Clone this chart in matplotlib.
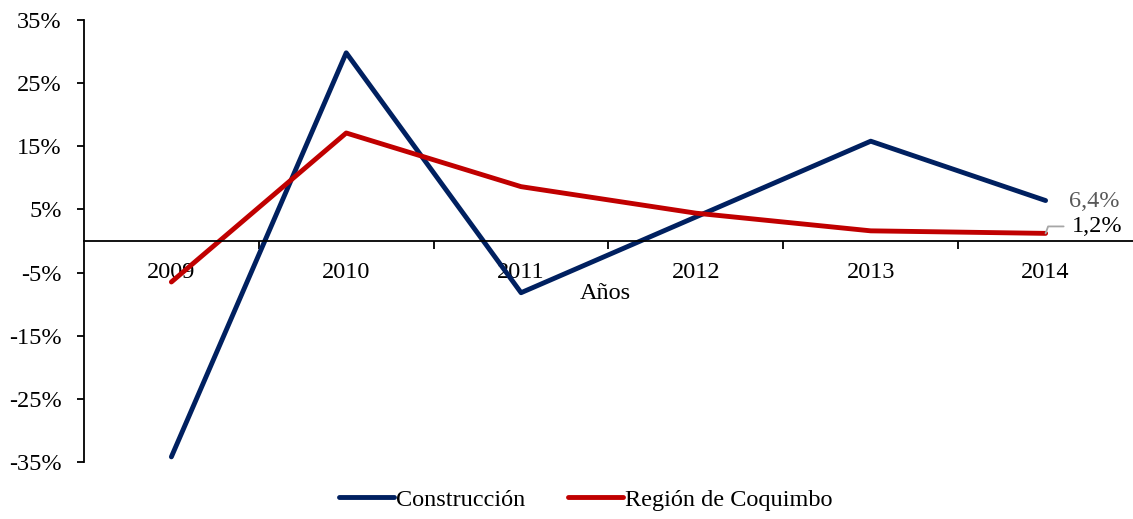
import numpy as np
import matplotlib.pyplot as plt

plt.rcParams['font.family'] = ['Liberation Serif', 'DejaVu Serif']

years = ['2009', '2010', '2011', '2012', '2013', '2014']
construccion = [-34.2, 29.8, -8.2, 3.8, 15.8, 6.4]
coquimbo = [-6.5, 17.1, 8.6, 4.4, 1.6, 1.2]
yticks = [35, 25, 15, 5, -5, -15, -25, -35]

blue = '#002060'
red = '#C00000'
fs = 17.5

fig = plt.figure(figsize=(11.33, 5.19), dpi=100)
ax = fig.add_axes([0.0741, 0.110, 0.9259, 0.8515])

x = np.arange(len(years))
ax.plot(x, construccion, color=blue, lw=3.5, label='Construcción', solid_capstyle='round')
ax.plot(x, coquimbo, color=red, lw=3.5, label='Región de Coquimbo', solid_capstyle='round')

ax.set_xlim(-0.5, len(years) - 0.5)
ax.set_ylim(-35, 35)

ax.spines['top'].set_visible(False)
ax.spines['right'].set_visible(False)
ax.spines['bottom'].set_position(('data', 0))
ax.spines['bottom'].set_linewidth(1.3)
ax.spines['left'].set_linewidth(1.3)

ax.set_xticks(x)
ax.set_xticklabels(years, fontsize=fs)
ax.set_xticks(np.arange(0.5, len(years) - 0.5, 1), minor=True)
ax.tick_params(axis='x', which='major', length=0, pad=15)
ax.tick_params(axis='x', which='minor', length=6, width=1.3, direction='out')

ax.set_yticks(yticks)
ax.set_yticklabels([f'{v}%' for v in yticks], fontsize=fs)
ax.tick_params(axis='y', length=5, width=1.3, direction='out', pad=11)

ax.text(2.48, -8.3, 'Años', ha='center', va='center', fontsize=fs)

ax.annotate(f'{construccion[-1]:.1f}%'.replace('.', ','), xy=(x[-1], construccion[-1]),
            xytext=(17, -8), textcoords='offset points', fontsize=fs,
            color='#595959', va='bottom')
ax.annotate(f'{coquimbo[-1]:.1f}%'.replace('.', ','), xy=(x[-1], coquimbo[-1]),
            xytext=(19, 5), textcoords='offset points', fontsize=fs,
            color='black', va='center',
            arrowprops=dict(arrowstyle='-', color='#A6A6A6', lw=1.3,
                            shrinkA=4, shrinkB=0,
                            connectionstyle='angle,angleA=0,angleB=70,rad=0'))

fig.legend(loc='center', bbox_to_anchor=(0.517, 0.037), ncol=2, frameon=False,
           fontsize=fs, handlelength=2.25, handletextpad=0.1, columnspacing=1.75)

fig.savefig('out.png', dpi=100)
